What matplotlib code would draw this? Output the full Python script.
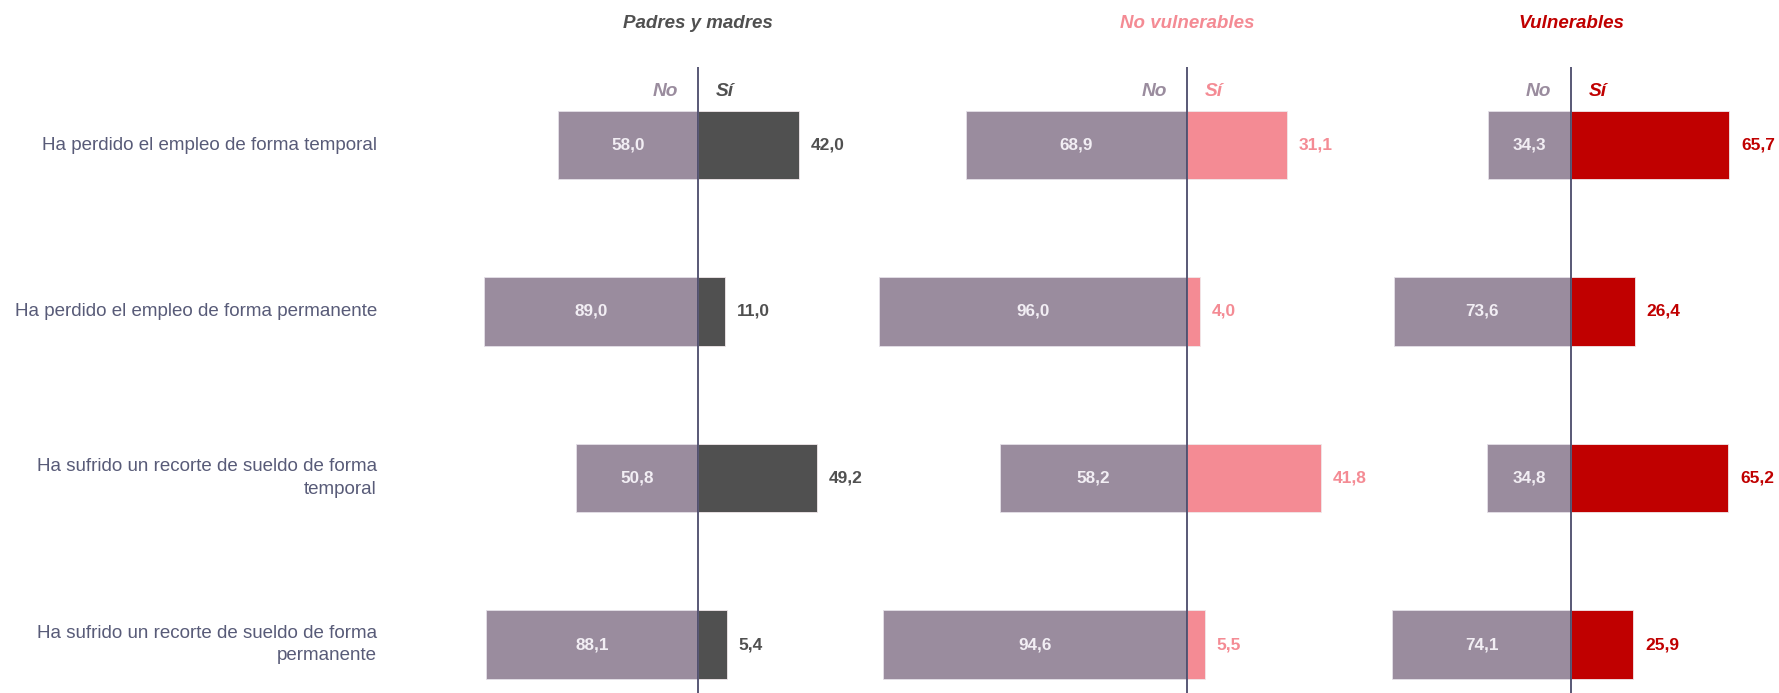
import matplotlib
matplotlib.use("Agg")
import matplotlib.pyplot as plt

plt.rcParams['font.family'] = ['Liberation Sans', 'DejaVu Sans']

categories = [
    "Ha perdido el empleo de forma temporal",
    "Ha perdido el empleo de forma permanente",
    "Ha sufrido un recorte de sueldo de forma\ntemporal",
    "Ha sufrido un recorte de sueldo de forma\npermanente",
]
groups = ["Padres y madres", "No vulnerables", "Vulnerables"]

no_padres = [58.0, 89.0, 50.8, 88.1]
si_padres = [42.0, 11.0, 49.2, 5.4]
si_padres_bar = [42.0, 11.0, 49.2, 11.9]  # bar length as drawn in the reference

no_novul = [68.9, 96.0, 58.2, 94.6]
si_novul = [31.1, 4.0, 41.8, 5.5]

no_vul = [34.3, 73.6, 34.8, 74.1]
si_vul = [65.7, 26.4, 65.2, 25.9]

NO_COLOR = "#9a8c9e"
SI_COLORS = ["#505050", "#f48b94", "#c00000"]
LINE_COLOR = "#4b4b6b"
CAT_COLOR = "#585b78"

W, H = 1779, 693
fig = plt.figure(figsize=(W / 100, H / 100), dpi=100)

# panel geometry in pixels: (centre x, px per unit, xlim)
panels = [
    (698, 2.41, (-100, 60), no_padres, si_padres_bar, si_padres),
    (1187, 3.21, (-100, 60), no_novul, si_novul, si_novul),
    (1571, 2.41, (-80, 85), no_vul, si_vul, si_vul),
]

row0, step = 145.0, 166.5
ytop = -row0 / step
ybot = (H - row0) / step


def fmt(v):
    return f"{v:.1f}".replace(".", ",")


for k, (cx, scale, xl, no_vals, si_bar, si_lab) in enumerate(panels):
    left = cx + xl[0] * scale
    right = cx + xl[1] * scale
    ax = fig.add_axes([left / W, 0, (right - left) / W, 1])
    ax.set_xlim(*xl)
    ax.set_ylim(ybot, ytop)
    ax.axis("off")
    ys = list(range(len(categories)))
    ax.barh(ys, [-v for v in no_vals], height=0.414, color=NO_COLOR,
            edgecolor="#e4e0e8", linewidth=0.6, zorder=2)
    ax.barh(ys, si_bar, height=0.414, color=SI_COLORS[k],
            edgecolor="#f0e8ea", linewidth=0.6, zorder=2)
    line_top = (67 - row0) / step
    ax.plot([0, 0], [line_top, ybot], color=LINE_COLOR, lw=1.3, zorder=4,
            solid_capstyle="butt")
    for y, nv, sb, sl in zip(ys, no_vals, si_bar, si_lab):
        ax.text(-nv / 2, y, fmt(nv), ha="center", va="center",
                color="#f2eef4", fontsize=12.3, fontweight="bold", zorder=5)
        ax.annotate(fmt(sl), xy=(sb, y), xytext=(12, 0),
                    textcoords="offset pixels", ha="left", va="center",
                    color=SI_COLORS[k], fontsize=12.5, fontweight="bold",
                    annotation_clip=False)
    yh = (92 - row0) / step
    ax.annotate("No", xy=(0, yh), xytext=(-20, 0), textcoords="offset pixels",
                ha="right", va="center", color=NO_COLOR, fontsize=13.8,
                fontweight="bold", fontstyle="italic", annotation_clip=False)
    ax.annotate("Sí", xy=(0, yh), xytext=(18, 0), textcoords="offset pixels",
                ha="left", va="center", color=SI_COLORS[k], fontsize=13.8,
                fontweight="bold", fontstyle="italic", annotation_clip=False)
    yt = (24 - row0) / step
    ax.text(0, yt, groups[k], ha="center", va="center", color=SI_COLORS[k],
            fontsize=13.5, fontweight="bold", fontstyle="italic")

# category labels
for i, c in enumerate(categories):
    ypx = row0 + step * i
    fig.text(377 / W, 1 - ypx / H, c, ha="right", va="center",
             multialignment="right", color=CAT_COLOR, fontsize=13.5,
             linespacing=1.45)

fig.savefig("out.png", dpi=100, facecolor="white")
